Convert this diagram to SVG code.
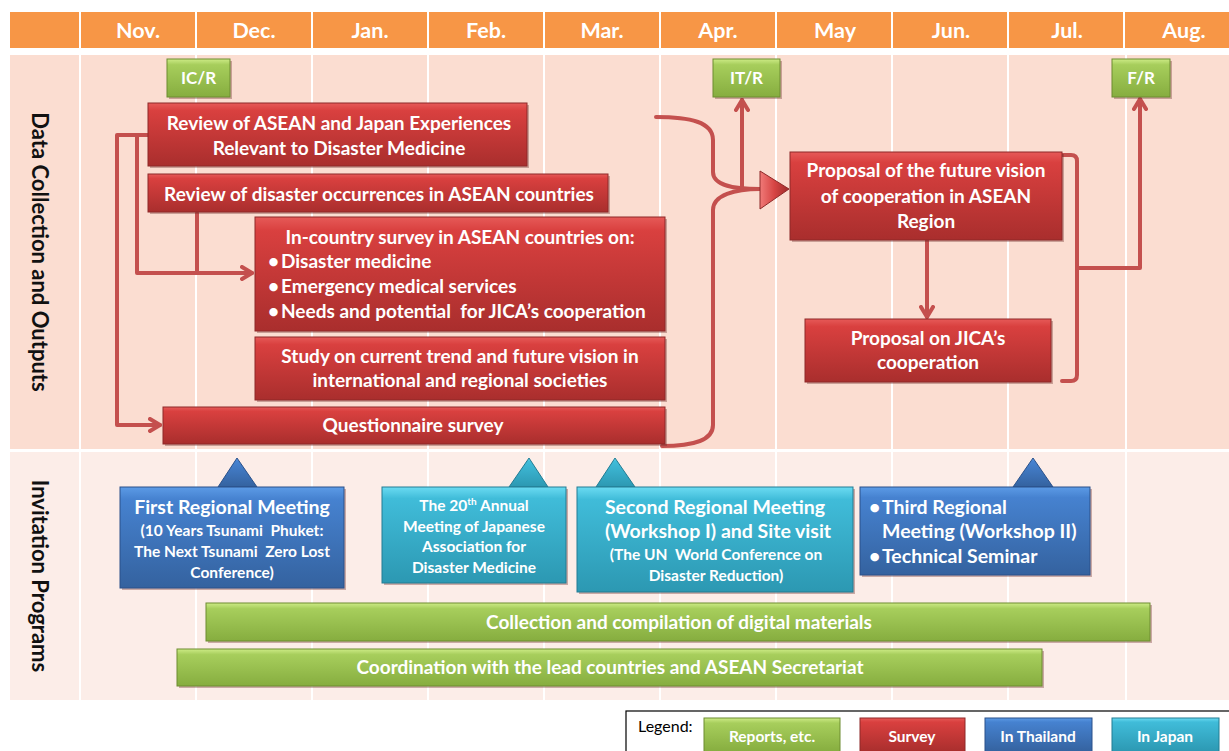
<svg xmlns="http://www.w3.org/2000/svg" width="1229" height="751" viewBox="0 0 1229 751">
<defs>
<linearGradient id="gRed" x1="0" y1="0" x2="0" y2="1"><stop offset="0" stop-color="#E65A58"/><stop offset="0.12" stop-color="#D9403F"/><stop offset="1" stop-color="#A92E2D"/></linearGradient>
<linearGradient id="gGreen" x1="0" y1="0" x2="0" y2="1"><stop offset="0" stop-color="#CDEB86"/><stop offset="0.15" stop-color="#A7CE5C"/><stop offset="1" stop-color="#86AD3F"/></linearGradient>
<linearGradient id="gBlue" x1="0" y1="0" x2="0" y2="1"><stop offset="0" stop-color="#5C9BE6"/><stop offset="0.12" stop-color="#4682D0"/><stop offset="1" stop-color="#34629F"/></linearGradient>
<linearGradient id="gCyan" x1="0" y1="0" x2="0" y2="1"><stop offset="0" stop-color="#6BDBF2"/><stop offset="0.12" stop-color="#40BCD9"/><stop offset="1" stop-color="#2C98B2"/></linearGradient>
<linearGradient id="gTri" x1="0" y1="0" x2="1" y2="0"><stop offset="0" stop-color="#F07A78"/><stop offset="0.5" stop-color="#D64443"/><stop offset="1" stop-color="#9E2B2A"/></linearGradient>
<marker id="arr" viewBox="0 0 14 16" refX="12" refY="8" markerWidth="14" markerHeight="16" markerUnits="userSpaceOnUse" orient="auto">
<path d="M2,2 L12,8 L2,14" fill="none" stroke="#C4504E" stroke-width="4" stroke-linecap="round" stroke-linejoin="round"/>
</marker>
<style>
text{white-space:pre}
.hdr{fill:#F79646}
.mon{font-family:Lato,"Liberation Sans",sans-serif;font-weight:bold;font-size:21.5px;fill:#FFFFFF;text-anchor:middle}
.side{font-family:Lato,"Liberation Sans",sans-serif;font-weight:bold;font-size:22px;fill:#111111;text-anchor:middle}
.r{font-family:Lato,"Liberation Sans",sans-serif;font-weight:bold;font-size:17px;fill:#FFFFFF;text-anchor:middle}
.t{font-family:Lato,"Liberation Sans",sans-serif;font-weight:bold;font-size:19px;fill:#FFFFFF;text-anchor:middle}
.tl{font-family:Lato,"Liberation Sans",sans-serif;font-weight:bold;font-size:19px;fill:#FFFFFF}
.ts{font-family:Lato,"Liberation Sans",sans-serif;font-weight:bold;font-size:15.5px;fill:#FFFFFF;text-anchor:middle}
.tb{font-family:Lato,"Liberation Sans",sans-serif;font-weight:bold;font-size:19.5px;fill:#FFFFFF;text-anchor:middle}
.tbl{font-family:Lato,"Liberation Sans",sans-serif;font-weight:bold;font-size:19.5px;fill:#FFFFFF}
.lg{font-family:Lato,"Liberation Sans",sans-serif;font-weight:bold;font-size:15.5px;fill:#FFFFFF;text-anchor:middle}
.red{fill:url(#gRed);stroke:#8E2928;stroke-width:1}
.grn{fill:url(#gGreen);stroke:#6C8C30;stroke-width:1}
.blu{fill:url(#gBlue);stroke:#2A518A;stroke-width:1}
.cyn{fill:url(#gCyan);stroke:#227C93;stroke-width:1}
.sh{fill:#6E2A28;opacity:0.35}
.con{fill:none;stroke:#C4504E;stroke-width:4;stroke-linejoin:round;stroke-linecap:round}
.vl{stroke:#FFFFFF;stroke-width:2}
</style>
</defs>
<rect width="1229" height="751" fill="#FFFFFF"/>
<g id="grid">
<rect x="10" y="12" width="69" height="36" class="hdr"/>
<rect x="81" y="12" width="114" height="36" class="hdr"/>
<rect x="197" y="12" width="114" height="36" class="hdr"/>
<rect x="313" y="12" width="114" height="36" class="hdr"/>
<rect x="429" y="12" width="114" height="36" class="hdr"/>
<rect x="545" y="12" width="114" height="36" class="hdr"/>
<rect x="661" y="12" width="114" height="36" class="hdr"/>
<rect x="777" y="12" width="114" height="36" class="hdr"/>
<rect x="893" y="12" width="114" height="36" class="hdr"/>
<rect x="1009" y="12" width="114" height="36" class="hdr"/>
<rect x="1125" y="12" width="104" height="36" class="hdr"/>
<text x="138" y="38" class="mon">Nov.</text>
<text x="254" y="38" class="mon">Dec.</text>
<text x="370" y="38" class="mon">Jan.</text>
<text x="486" y="38" class="mon">Feb.</text>
<text x="602" y="38" class="mon">Mar.</text>
<text x="718" y="38" class="mon">Apr.</text>
<text x="835" y="38" class="mon">May</text>
<text x="951" y="38" class="mon">Jun.</text>
<text x="1067" y="38" class="mon">Jul.</text>
<text x="1184" y="38" class="mon">Aug.</text>
<rect x="10" y="55" width="1219" height="394" fill="#FBDDD1"/>
<rect x="10" y="452" width="1219" height="248" fill="#FCEDE8"/>
<g class="vl">
<line x1="80" y1="55" x2="80" y2="700"/>
<line x1="196" y1="55" x2="196" y2="700"/>
<line x1="312" y1="55" x2="312" y2="700"/>
<line x1="428" y1="55" x2="428" y2="700"/>
<line x1="544" y1="55" x2="544" y2="700"/>
<line x1="660" y1="55" x2="660" y2="700"/>
<line x1="776" y1="55" x2="776" y2="700"/>
<line x1="892" y1="55" x2="892" y2="700"/>
<line x1="1008" y1="55" x2="1008" y2="700"/>
<line x1="1126" y1="55" x2="1126" y2="700"/>
</g>
<text class="side" transform="translate(32,252) rotate(90)">Data Collection and Outputs</text>
<text class="side" transform="translate(32,576) rotate(90)">Invitation Programs</text>
</g>
<g id="connectors">
<path class="con" d="M148,135 H117 V425 H160" marker-end="url(#arr)"/>
<path class="con" d="M148,135 H137 V273 H252" marker-end="url(#arr)"/>
<path class="con" d="M197,213 V273"/>
<path class="con" d="M656,117 C690,117 713,122 713,140 V172 C713,186 735,189 760,189"/>
<path class="con" d="M662,446 C695,446 713,440 713,425 V210 C713,195 735,189 760,189"/>
<path class="con" d="M742,188 V100" marker-end="url(#arr)"/>
<path class="con" d="M927,240 V317" marker-end="url(#arr)"/>
<path class="con" d="M1062,155 H1071 Q1077,155 1077,161 V375 Q1077,381 1071,381 H1062"/>
<path class="con" d="M1077,268 H1140 V99" marker-end="url(#arr)"/>
<polygon points="760,171 789,189 760,209" fill="url(#gTri)" stroke="#8E2928" stroke-width="1"/>
</g>
<g id="icr"><rect x="169" y="61" width="63" height="38" class="sh"/><rect x="167" y="59" width="63" height="38" class="grn"/><text x="198.5" y="84" class="r">IC/R</text></g>
<g id="itr"><rect x="715" y="61" width="67" height="38" class="sh"/><rect x="713" y="59" width="67" height="38" class="grn"/><text x="746.5" y="84" class="r">IT/R</text></g>
<g id="fr"><rect x="1114" y="61" width="58" height="38" class="sh"/><rect x="1112" y="59" width="58" height="38" class="grn"/><text x="1141" y="84" class="r">F/R</text></g>
<g id="review-asean-japan"><rect x="150" y="105" width="379" height="63" class="sh"/><rect x="148" y="103" width="379" height="63" class="red"/><text x="339" y="130" class="t">Review of ASEAN and Japan Experiences</text><text x="339" y="155" class="t">Relevant to Disaster Medicine</text></g>
<g id="review-disaster"><rect x="150" y="176" width="460" height="38" class="sh"/><rect x="148" y="174" width="460" height="38" class="red"/><text x="379" y="201" class="t">Review of disaster occurrences in ASEAN countries</text></g>
<g id="in-country"><rect x="257" y="219" width="410" height="114" class="sh"/><rect x="255" y="217" width="410" height="114" class="red"/><text x="460" y="244" class="t">In-country survey in ASEAN countries on:</text><text x="268" y="268" class="tl">•</text><text x="281" y="268" class="tl">Disaster medicine</text><text x="268" y="293" class="tl">•</text><text x="281" y="293" class="tl">Emergency medical services</text><text x="268" y="318" class="tl">•</text><text x="281" y="318" class="tl">Needs and potential  for JICA’s cooperation</text></g>
<g id="study"><rect x="257" y="339" width="410" height="63" class="sh"/><rect x="255" y="337" width="410" height="63" class="red"/><text x="460" y="363" class="t">Study on current trend and future vision in</text><text x="460" y="387" class="t">international and regional societies</text></g>
<g id="questionnaire"><rect x="165" y="409" width="502" height="37" class="sh"/><rect x="163" y="407" width="502" height="37" class="red"/><text x="413" y="432" class="t">Questionnaire survey</text></g>
<g id="proposal-vision"><rect x="792" y="154" width="272" height="88" class="sh"/><rect x="790" y="152" width="272" height="88" class="red"/><text x="926" y="177" class="t">Proposal of the future vision</text><text x="926" y="203" class="t">of cooperation in ASEAN</text><text x="926" y="228" class="t">Region</text></g>
<g id="proposal-jica"><rect x="807" y="321" width="246" height="63" class="sh"/><rect x="805" y="319" width="246" height="63" class="red"/><text x="928" y="345" class="t">Proposal on JICA’s</text><text x="928" y="369" class="t">cooperation</text></g>
<g id="first-meeting"><polygon points="218,487 237,458 257,487" class="blu"/><rect x="122" y="489" width="224" height="101" class="sh"/><rect x="120" y="487" width="224" height="101" class="blu"/><text x="232" y="514" class="tb">First Regional Meeting</text><text x="232" y="536" class="ts">(10 Years Tsunami  Phuket:</text><text x="232" y="557" class="ts">The Next Tsunami  Zero Lost</text><text x="232" y="578" class="ts">Conference)</text></g>
<g id="jadm"><polygon points="509,487 529,458 548,487" class="cyn"/><rect x="384" y="489" width="184" height="96" class="sh"/><rect x="382" y="487" width="184" height="96" class="cyn"/><text x="474" y="511" class="ts">The 20<tspan font-size="10" dy="-6">th</tspan><tspan dy="6"> Annual</tspan></text><text x="474" y="532" class="ts">Meeting of Japanese</text><text x="474" y="552" class="ts">Association for</text><text x="474" y="573" class="ts">Disaster Medicine</text></g>
<g id="second-meeting"><polygon points="596,487 615,458 635,487" class="cyn"/><rect x="579" y="489" width="276" height="105" class="sh"/><rect x="577" y="487" width="276" height="105" class="cyn"/><text x="715" y="514" class="tb">Second Regional Meeting</text><text x="718" y="538" class="tb">(Workshop I) and Site visit</text><text x="716" y="560" class="ts">(The UN  World Conference on</text><text x="716" y="581" class="ts">Disaster Reduction)</text></g>
<g id="third-meeting"><polygon points="1013,487 1033,458 1053,487" class="blu"/><rect x="862" y="489" width="230" height="88" class="sh"/><rect x="860" y="487" width="230" height="88" class="blu"/><text x="869" y="514" class="tbl">•</text><text x="882" y="514" class="tbl">Third Regional</text><text x="882" y="538" class="tbl">Meeting (Workshop II)</text><text x="869" y="563" class="tbl">•</text><text x="882" y="563" class="tbl">Technical Seminar</text></g>
<g id="digital"><rect x="208" y="605" width="944" height="38" class="sh"/><rect x="206" y="603" width="944" height="38" class="grn"/><text x="679" y="629" class="t">Collection and compilation of digital materials</text></g>
<g id="coordination"><rect x="179" y="651" width="865" height="37" class="sh"/><rect x="177" y="649" width="865" height="37" class="grn"/><text x="610" y="674" class="t">Coordination with the lead countries and ASEAN Secretariat</text></g>
<g id="legend">
<rect x="626" y="711" width="610" height="45" fill="#FFFFFF" stroke="#000000" stroke-width="1.2"/>
<text x="638" y="732" font-family="Lato,'Liberation Sans',sans-serif" font-size="16" fill="#000000">Legend:</text>
<rect x="704" y="718" width="136" height="34" class="grn"/><text x="772" y="742" class="lg">Reports, etc.</text>
<rect x="860" y="718" width="105" height="34" class="red"/><text x="912" y="742" class="lg">Survey</text>
<rect x="985" y="718" width="107" height="34" class="blu"/><text x="1038" y="742" class="lg">In Thailand</text>
<rect x="1112" y="718" width="107" height="34" class="cyn"/><text x="1165" y="742" class="lg">In Japan</text>
</g>
</svg>
